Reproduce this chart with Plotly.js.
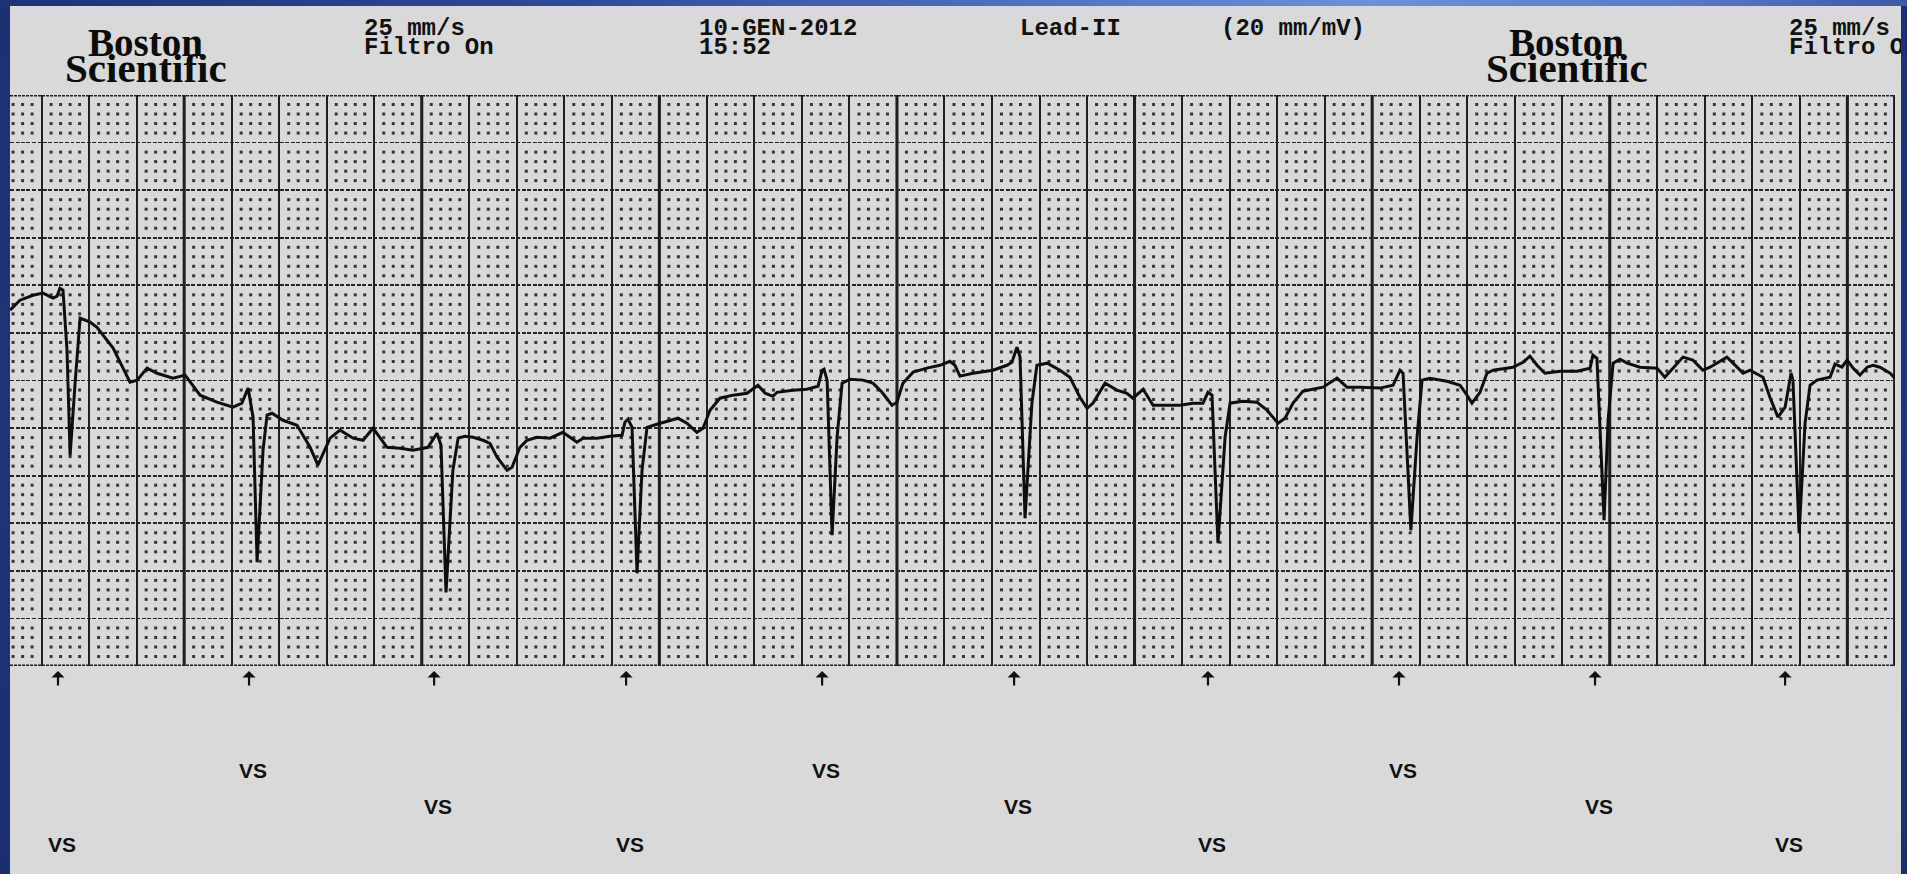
<!DOCTYPE html>
<html>
<head>
<meta charset="utf-8">
<script src="https://cdn.plot.ly/plotly-3.0.1.min.js"></script>
<style>
html,body{margin:0;padding:0;width:1907px;height:874px;overflow:hidden;}
body{background:linear-gradient(180deg,#1d3170 0%,#1f3576 50%,#1c2f6c 100%);position:relative;}
#topbar{position:absolute;left:0;top:0;width:1907px;height:6px;
  background:linear-gradient(90deg,#1e3374 0%,#2d4b94 30%,#5679c2 58%,#6d91d5 72%,#5a7bc3 88%,#3b5ba3 100%);}
#chart{position:absolute;left:10px;top:6px;width:1891px;height:868px;}
</style>
</head>
<body>
<div id="topbar"></div>
<div id="chart"></div>
<script>
// ---- Lead II trace, read off the strip (25 mm/s, 20 mm/mV) ----
// time in seconds, amplitude in mV
const timeS = [
  0.067,0.109,0.164,0.206,0.248,0.265,0.277,0.290,0.307,0.320,
  0.341,0.362,0.404,0.433,0.501,0.572,0.602,0.644,0.686,0.753,
  0.804,0.867,0.938,1.006,1.043,1.069,1.090,1.107,1.132,1.149,
  1.170,1.216,1.275,1.330,1.363,1.414,1.456,1.511,1.553,1.595,
  1.654,1.708,1.763,1.826,1.864,1.881,1.902,1.931,1.953,1.982,
  2.016,2.058,2.087,2.117,2.159,2.180,2.213,2.243,2.285,2.340,
  2.394,2.453,2.479,2.538,2.592,2.643,2.655,2.668,2.685,2.706,
  2.727,2.748,2.790,2.857,2.878,2.916,2.958,2.984,3.013,3.055,
  3.110,3.169,3.215,3.245,3.278,3.295,3.362,3.421,3.468,3.485,
  3.493,3.506,3.527,3.548,3.569,3.602,3.657,3.699,3.737,3.779,
  3.800,3.825,3.868,3.926,3.981,4.023,4.044,4.065,4.120,4.204,
  4.263,4.284,4.305,4.318,4.339,4.368,4.389,4.432,4.486,4.528,
  4.570,4.600,4.625,4.676,4.726,4.768,4.793,4.836,4.878,4.937,
  4.991,5.046,5.088,5.109,5.126,5.151,5.181,5.202,5.256,5.315,
  5.357,5.404,5.433,5.467,5.509,5.593,5.652,5.694,5.749,5.833,
  5.888,5.917,5.930,5.963,5.989,6.010,6.043,6.115,6.170,6.199,
  6.220,6.254,6.283,6.309,6.393,6.435,6.464,6.494,6.527,6.591,
  6.662,6.717,6.729,6.746,6.776,6.793,6.814,6.843,6.873,6.927,
  6.999,7.032,7.066,7.108,7.150,7.192,7.222,7.293,7.336,7.361,
  7.390,7.445,7.474,7.508,7.538,7.563,7.571,7.597,7.622,7.643,
  7.672,7.727,7.748,7.777,7.799,7.824,7.853,7.883,7.908,7.937,
  7.980,8.000
];
const leadII_mV = [
  0.370,0.422,0.448,0.459,0.433,0.443,0.485,0.475,0.159,-0.393,
  -0.014,0.328,0.307,0.280,0.170,-0.009,0.002,0.065,0.038,0.012,
  0.028,-0.077,-0.114,-0.140,-0.119,-0.040,-0.193,-0.955,-0.366,-0.182,
  -0.172,-0.209,-0.235,-0.351,-0.445,-0.303,-0.261,-0.303,-0.314,-0.251,
  -0.351,-0.356,-0.366,-0.351,-0.277,-0.340,-1.113,-0.472,-0.303,-0.293,
  -0.298,-0.314,-0.330,-0.403,-0.472,-0.456,-0.351,-0.314,-0.298,-0.303,
  -0.272,-0.324,-0.303,-0.303,-0.293,-0.288,-0.219,-0.203,-0.246,-1.013,
  -0.472,-0.246,-0.230,-0.203,-0.198,-0.224,-0.272,-0.251,-0.156,-0.093,
  -0.077,-0.067,-0.025,-0.067,-0.083,-0.062,-0.051,-0.046,-0.030,0.054,
  0.059,0.002,-0.813,-0.298,-0.014,0.007,0.002,-0.014,-0.062,-0.130,
  -0.114,-0.014,0.044,0.065,0.080,0.101,0.080,0.023,0.038,0.054,
  0.080,0.096,0.175,0.123,-0.724,-0.119,0.080,0.091,0.054,0.017,
  -0.088,-0.146,-0.119,-0.014,-0.051,-0.067,-0.093,-0.046,-0.130,-0.130,
  -0.130,-0.119,-0.119,-0.062,-0.077,-0.855,-0.298,-0.119,-0.109,-0.114,
  -0.156,-0.224,-0.198,-0.119,-0.056,-0.035,0.012,-0.035,-0.035,-0.040,
  -0.025,0.054,0.038,-0.787,-0.298,0.002,0.012,-0.004,-0.025,-0.077,
  -0.119,-0.062,0.038,0.054,0.070,0.096,0.128,0.080,0.038,0.049,
  0.049,0.065,0.133,0.117,-0.734,-0.209,0.091,0.112,0.091,0.070,
  0.065,0.017,0.065,0.123,0.107,0.054,0.070,0.123,0.070,0.038,
  0.054,0.017,-0.088,-0.193,-0.140,0.038,0.002,-0.803,-0.224,-0.025,
  0.002,0.017,0.086,0.070,0.107,0.065,0.028,0.070,0.080,0.070,
  0.038,0.012
];

// ---- Sensed ventricular events (marker arrows + labels) ----
const eventTimesS = [0.269, 1.073, 1.852, 2.660, 3.485, 4.293, 5.109, 5.913, 6.738, 7.538];
const eventLabels = ['VS','VS','VS','VS','VS','VS','VS','VS','VS','VS'];

// ---- Header texts ----
const speedText = '25 mm/s';
const filterText = 'Filtro On';
const dateText = '10-GEN-2012';
const timeText = '15:52';
const leadText = 'Lead-II';
const gainText = '(20 mm/mV)';
const logoTop = 'Boston';
const logoBottom = 'Scientific';

// pixel (page) -> paper helpers
function X(p){ return (p - 10) / 1885; }
function Y(p){ return (666 - p) / 571; }

// minor grid dots (1 mm = 0.04 s, 0.05 mV)
const dotX = [], dotY = [];
for (let m = 2; m <= 199; m++) {
  if (m % 5 === 0) continue;
  const t = m * 0.04;
  for (let n = -29; n <= 29; n++) {
    if (n % 5 === 0) continue;
    dotX.push(t); dotY.push(n * 0.05);
  }
}

const traces = [
  {x: dotX, y: dotY, type: 'scatter', mode: 'markers', hoverinfo: 'skip',
   marker: {symbol: 'square', size: 3, color: '#353535', line: {width: 0}}},
  {x: timeS, y: leadII_mV, type: 'scatter', mode: 'lines', hoverinfo: 'skip',
   line: {color: '#0e0e0e', width: 3}}
];

const shapes = [];
for (let n = 0; n < 8; n++) {
  shapes.push({type: 'line', xref: 'x', yref: 'paper', x0: 0.8 + n, x1: 0.8 + n, y0: 0, y1: 1,
               line: {color: '#151515', width: 3}, layer: 'between'});
}
shapes.push({type: 'line', xref: 'x', yref: 'paper', x0: 8.0, x1: 8.0, y0: 0, y1: 1,
             line: {color: '#151515', width: 3.5}, layer: 'between'});
[1.5, -1.5].forEach(v => shapes.push({type: 'line', xref: 'paper', yref: 'y', x0: 0, x1: 1, y0: v, y1: v,
             line: {color: '#1e1e1e', width: 2.8, dash: '3px,1px'}, layer: 'between'}));

const mono = {family: 'Liberation Mono, monospace', size: 24, color: '#111', weight: 'bold'};
const annotations = [];
function txt(text, left, yc, font) {
  annotations.push({text: text, xref: 'paper', yref: 'paper', x: X(left), y: Y(yc),
    xanchor: 'left', yanchor: 'middle', showarrow: false, font: font});
}
const shiftR = 1425;
[0, shiftR].forEach(s => {
  txt(speedText, 362 + s, 28.6, mono);
  txt(filterText, 362 + s, 47.6, mono);
});
txt(dateText, 697, 28.6, mono);
txt(timeText, 697, 47.6, mono);
txt(leadText, 1018, 28.6, mono);
txt(gainText, 1219, 28.6, mono);

[0, 1421].forEach(s => {
  txt(logoTop, 86 + s, 42.5, {family: 'Liberation Serif, serif', size: 39, color: '#0c0c0c', weight: 'bold'});
  txt(logoBottom, 63 + s, 68, {family: 'Liberation Serif, serif', size: 41, color: '#0c0c0c', weight: 'bold'});
});

const rowY = [Y(844), Y(770), Y(806.5)];
eventTimesS.forEach((t, i) => {
  annotations.push({x: t, xref: 'x', y: Y(671), yref: 'paper', text: '', showarrow: true,
    arrowhead: 1, arrowsize: 1.0, arrowwidth: 2.2, arrowcolor: '#111', ax: 0, ay: 16, standoff: 0});
  annotations.push({x: t, xref: 'x', xshift: 4, y: rowY[i % 3], yref: 'paper', text: eventLabels[i],
    showarrow: false, xanchor: 'center', yanchor: 'middle',
    font: {family: 'Liberation Sans, Arial, sans-serif', size: 21, color: '#111', weight: 'bold'}});
});

const layout = {
  width: 1891, height: 868,
  margin: {l: 0, r: 6, t: 89, b: 208, pad: 0},
  paper_bgcolor: '#d9d9d9', plot_bgcolor: '#d9d9d9',
  showlegend: false,
  xaxis: {range: [0.067, 8.0005], dtick: 0.2, tick0: 0, showgrid: true, gridcolor: '#1f1f1f', gridwidth: 2,
          zeroline: false, showline: false, showticklabels: false, ticks: '', fixedrange: true},
  yaxis: {range: [-1.5, 1.5], dtick: 0.25, tick0: 0, showgrid: true, gridcolor: '#262626', gridwidth: 1.8,
          griddash: '4px,1.5px', zeroline: false, showline: false, showticklabels: false, ticks: '', fixedrange: true},
  shapes: shapes,
  annotations: annotations
};

Plotly.newPlot('chart', traces, layout, {displayModeBar: false, staticPlot: true});
</script>
</body>
</html>
